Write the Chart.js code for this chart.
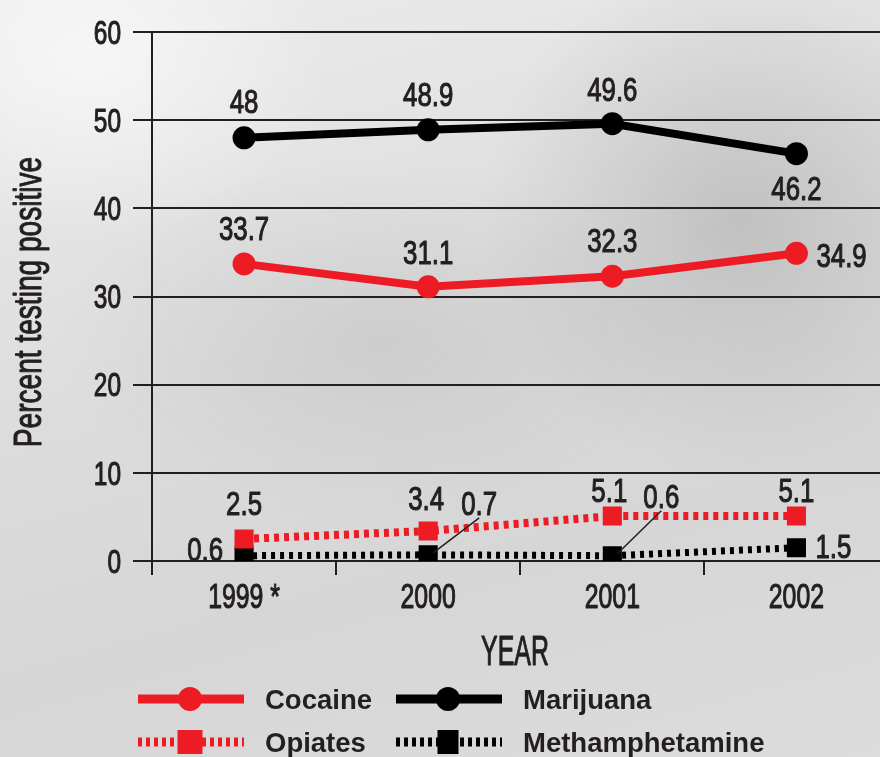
<!DOCTYPE html>
<html>
<head>
<meta charset="utf-8">
<script src="https://cdn.jsdelivr.net/npm/chart.js@4.4.1/dist/chart.umd.min.js"></script>
<style>
  html, body { margin: 0; padding: 0; width: 880px; height: 757px; overflow: hidden; }
  body {
    background:
      radial-gradient(ellipse 260px 260px at 740px 220px, rgba(150,150,150,0.4), rgba(150,150,150,0) 100%),
      radial-gradient(ellipse 320px 180px at 380px 340px, rgba(170,170,170,0.3), rgba(170,170,170,0) 100%),
      radial-gradient(ellipse 240px 180px at 90px 60px, rgba(255,255,255,0.6), rgba(255,255,255,0) 100%),
      linear-gradient(165deg, #ececec 0%, #dcdcdc 45%, #d6d6d6 70%, #dcdcdc 100%);
  }
  #wrap { position: absolute; left: 0; top: 0; width: 902px; height: 757px; }
</style>
</head>
<body>
<div id="wrap"><canvas id="grafico" width="902" height="757"></canvas></div>
<script>
// valores (percentagem com teste positivo)
const anos = ['1999 *', '2000', '2001', '2002'];
const cocaina = [33.7, 31.1, 32.3, 34.9];
const marijuana = [48, 48.9, 49.6, 46.2];
const opiaceos = [2.5, 3.4, 5.1, 5.1];
const metanfetamina = [0.6, 0.7, 0.6, 1.5];
const ticksY = [0, 10, 20, 30, 40, 50, 60];

const VERMELHO = '#ed1c24';
const PRETO = '#000000';
const TEXTO = '#231f20';

// onde fica cada etiqueta em relação ao ponto: [dx, dy, alinhamento, linha-guia]
const posCocaina = [[0, -36, 'center'], [0, -35, 'center'], [0, -36, 'center'], [20, 2, 'left']];
const posMarijuana = [[0, -37, 'center'], [0, -36, 'center'], [0, -35, 'center'], [0, 34, 'center']];
const posOpiaceos = [[0, -36, 'center'], [-2, -33, 'center'], [-3, -26, 'center'], [0, -26, 'center']];
const posMetanfetamina = [[-21, -7, 'right'], [51, -52, 'center', true], [49, -60, 'center', true], [19, -2, 'left']];

// texto "condensado": fonte normal estreitada na horizontal e um pouco engrossada
function textoEstreito(ctx, texto, x, y, tamanho, k, alinh) {
  ctx.save();
  ctx.font = `${tamanho}px "Liberation Sans", Arial, sans-serif`;
  const w = ctx.measureText(texto).width * k;
  const esq = alinh === 'center' ? x - w / 2 : alinh === 'right' ? x - w : x;
  ctx.translate(esq, y + 0.358 * tamanho);
  ctx.scale(k, 1);
  ctx.textAlign = 'left';
  ctx.textBaseline = 'alphabetic';
  ctx.fillStyle = TEXTO;
  ctx.strokeStyle = TEXTO;
  ctx.lineWidth = 1.1;
  ctx.lineJoin = 'round';
  ctx.fillText(texto, 0, 0);
  ctx.strokeText(texto, 0, 0);
  ctx.restore();
}

const etiquetasPlugin = {
  id: 'etiquetas',
  afterDraw(chart) {
    const ctx = chart.ctx;
    const sx = chart.scales.x, sy = chart.scales.y;

    // eixo Y: números e título
    ticksY.forEach(v => textoEstreito(ctx, String(v), 121, sy.getPixelForValue(v), 33, 0.74, 'right'));
    ctx.save();
    ctx.translate(41, 302);
    ctx.rotate(-Math.PI / 2);
    textoEstreito(ctx, 'Percent testing positive', 0, -14, 39, 0.72, 'center');
    ctx.restore();

    // eixo X
    anos.forEach((a, i) => textoEstreito(ctx, a, sx.getPixelForValue(i), 595, 35, 0.71, 'center'));
    textoEstreito(ctx, 'YEAR', 515, 650, 43, 0.58, 'center');

    // valores junto aos pontos
    const posicoes = [posMarijuana, posCocaina, posOpiaceos, posMetanfetamina];
    chart.data.datasets.forEach((ds, d) => {
      const meta = chart.getDatasetMeta(d);
      meta.data.forEach((p, i) => {
        const [dx, dy, alinh, guia] = posicoes[d][i];
        const lx = p.x + dx, ly = p.y + dy;
        if (guia) {
          ctx.save();
          ctx.strokeStyle = TEXTO;
          ctx.lineWidth = 1.5;
          ctx.beginPath();
          ctx.moveTo(p.x + 5, p.y - 2);
          ctx.lineTo(lx, ly + 15);
          ctx.stroke();
          ctx.restore();
        }
        textoEstreito(ctx, String(ds.data[i]), lx, ly, 34, 0.76, alinh);
      });
    });

    // legenda
    const itens = [
      { nome: 'Cocaine', cor: VERMELHO, tipo: 'circle', dash: [], x: 138, y: 699 },
      { nome: 'Marijuana', cor: PRETO, tipo: 'circle', dash: [], x: 396, y: 699 },
      { nome: 'Opiates', cor: VERMELHO, tipo: 'rect', dash: [4, 4], x: 138, y: 742 },
      { nome: 'Methamphetamine', cor: PRETO, tipo: 'rect', dash: [4, 4], x: 396, y: 742 }
    ];
    itens.forEach(it => {
      ctx.save();
      ctx.strokeStyle = it.cor;
      ctx.fillStyle = it.cor;
      ctx.lineWidth = 9;
      ctx.setLineDash(it.dash);
      ctx.beginPath();
      ctx.moveTo(it.x, it.y);
      ctx.lineTo(it.x + 106, it.y);
      ctx.stroke();
      const cx = it.x + 52;
      if (it.tipo === 'circle') {
        ctx.beginPath();
        ctx.arc(cx, it.y, 12, 0, Math.PI * 2);
        ctx.fill();
      } else {
        const w = it.cor === PRETO ? 21 : 25;
        ctx.fillRect(cx - w / 2, it.y - 12, w, 24);
      }
      ctx.font = 'bold 27.5px "Liberation Sans", Arial, sans-serif';
      ctx.fillStyle = TEXTO;
      ctx.textBaseline = 'alphabetic';
      ctx.fillText(it.nome, it.x + 127, it.y + 10);
      ctx.restore();
    });
  }
};

new Chart(document.getElementById('grafico'), {
  type: 'line',
  data: {
    labels: anos,
    datasets: [
      { label: 'Marijuana', data: marijuana, borderColor: PRETO, backgroundColor: PRETO, borderWidth: 8,
        pointStyle: 'circle', pointRadius: 11.5, pointBorderWidth: 0 },
      { label: 'Cocaine', data: cocaina, borderColor: VERMELHO, backgroundColor: VERMELHO, borderWidth: 8,
        pointStyle: 'circle', pointRadius: 11.5, pointBorderWidth: 0 },
      { label: 'Opiates', data: opiaceos, borderColor: VERMELHO, backgroundColor: VERMELHO, borderWidth: 8,
        borderDash: [5, 5], pointStyle: 'rect', pointRadius: 13.5, pointBorderWidth: 0 },
      { label: 'Methamphetamine', data: metanfetamina, borderColor: PRETO, backgroundColor: PRETO, borderWidth: 7,
        borderDash: [4, 5], pointStyle: 'rect', pointRadius: 13.5, pointBorderWidth: 0 }
    ]
  },
  options: {
    responsive: false,
    animation: false,
    devicePixelRatio: 1,
    events: [],
    layout: { padding: { top: 32, left: 0, right: 0, bottom: 0 } },
    plugins: { legend: { display: false }, tooltip: { enabled: false } },
    elements: { line: { tension: 0, borderCapStyle: 'butt' } },
    scales: {
      x: {
        type: 'category',
        offset: true,
        grid: { offset: true, drawOnChartArea: false, drawTicks: true, tickLength: 14, color: TEXTO, lineWidth: 2 },
        border: { display: true, color: TEXTO, width: 2 },
        ticks: { display: false },
        afterFit(s) { s.height = 196; }
      },
      y: {
        min: 0,
        max: 60,
        ticks: { display: false, stepSize: 10 },
        grid: { color: TEXTO, lineWidth: 2, drawTicks: true, tickLength: 19 },
        border: { display: true, color: TEXTO, width: 2 },
        afterFit(s) { s.width = 152; }
      }
    }
  },
  plugins: [etiquetasPlugin]
});
</script>
</body>
</html>
